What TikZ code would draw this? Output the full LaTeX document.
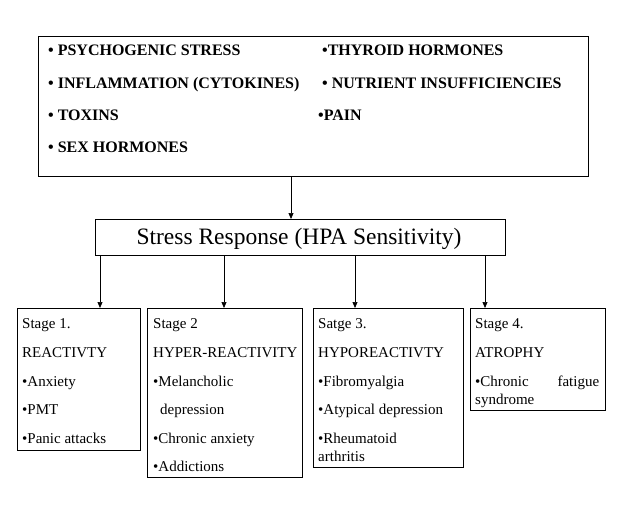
\documentclass[tikz,border=0pt]{standalone}
\usepackage{fontspec}
\setmainfont{Liberation Serif}
\usetikzlibrary{arrows.meta}
\tikzset{
  box/.style={draw=black, line width=0.8pt, anchor=north west, inner sep=0pt},
  toptxt/.style={anchor=base west, inner sep=0pt, font=\fontsize{16}{18}\selectfont\bfseries},
  stxt/.style={anchor=base west, inner sep=0pt, font=\fontsize{15}{18}\selectfont},
  conn/.style={line width=0.7pt, -{Triangle[length=6pt,width=5pt]}}
}
\begin{document}
\begin{tikzpicture}[x=1pt,y=-1pt]
\useasboundingbox (0,0) rectangle (624,532);
% top box
\node[box, minimum width=550pt, minimum height=140pt] (top) at (38,36) {};
\node[toptxt] (t1) at (48,56) {• PSYCHOGENIC STRESS};
\node[toptxt] (t2) at (48,89) {• INFLAMMATION (CYTOKINES)};
\node[toptxt] (t3) at (48,121) {• TOXINS};
\node[toptxt] (t4) at (48,153) {• SEX HORMONES};
\node[toptxt] (t5) at (322,56) {•THYROID HORMONES};
\node[toptxt] (t6) at (322,89) {• NUTRIENT INSUFFICIENCIES};
\node[toptxt] (t7) at (318,121) {•PAIN};
% middle box
\node[box, minimum width=410pt, minimum height=36pt] (mid) at (95,219) {};
\node[inner sep=0pt, font=\fontsize{23.5}{26}\selectfont] (midtxt) at (299,239) {Stress Response (HPA Sensitivity)};
% stage boxes
\node[box, minimum width=123pt, minimum height=142pt] (s1) at (17,308) {};
\node[box, minimum width=155pt, minimum height=169pt] (s2) at (147,308) {};
\node[box, minimum width=150pt, minimum height=159pt] (s3) at (313,308) {};
\node[box, minimum width=135pt, minimum height=102pt] (s4) at (470,308) {};
% stage 1
\node[stxt] (a1) at (22,328) {Stage 1.};
\node[stxt] (a2) at (22,357) {REACTIVTY};
\node[stxt] (a3) at (22,386) {•Anxiety};
\node[stxt] (a4) at (22,414) {•PMT};
\node[stxt] (a5) at (22,443) {•Panic attacks};
% stage 2
\node[stxt] (b1) at (153,328) {Stage 2};
\node[stxt] (b2) at (153,357) {HYPER-REACTIVITY};
\node[stxt] (b3) at (153,386) {•Melancholic};
\node[stxt] (b4) at (160,414) {depression};
\node[stxt] (b5) at (153,443) {•Chronic anxiety};
\node[stxt] (b6) at (153,471) {•Addictions};
% stage 3
\node[stxt] (c1) at (318,328) {Satge 3.};
\node[stxt] (c2) at (318,357) {HYPOREACTIVTY};
\node[stxt] (c3) at (318,386) {•Fibromyalgia};
\node[stxt] (c4) at (318,414) {•Atypical depression};
\node[stxt] (c5) at (318,443) {•Rheumatoid};
\node[stxt] (c6) at (318,461) {arthritis};
% stage 4
\node[stxt] (d1) at (475,328) {Stage 4.};
\node[stxt] (d2) at (475,357) {ATROPHY};
\node[stxt] (d3) at (475,386) {\makebox[124pt][s]{•Chronic fatigue}};
\node[stxt] (d4) at (475,404) {syndrome};
% connectors
\draw[conn] (top.south -| 291,0) -- (mid.north -| 291,0);
\draw[conn] (mid.south -| 100,0) -- (s1.north -| 100,0);
\draw[conn] (mid.south -| 224,0) -- (s2.north -| 224,0);
\draw[conn] (mid.south -| 355,0) -- (s3.north -| 355,0);
\draw[conn] (mid.south -| 485,0) -- (s4.north -| 485,0);
\end{tikzpicture}
\end{document}
